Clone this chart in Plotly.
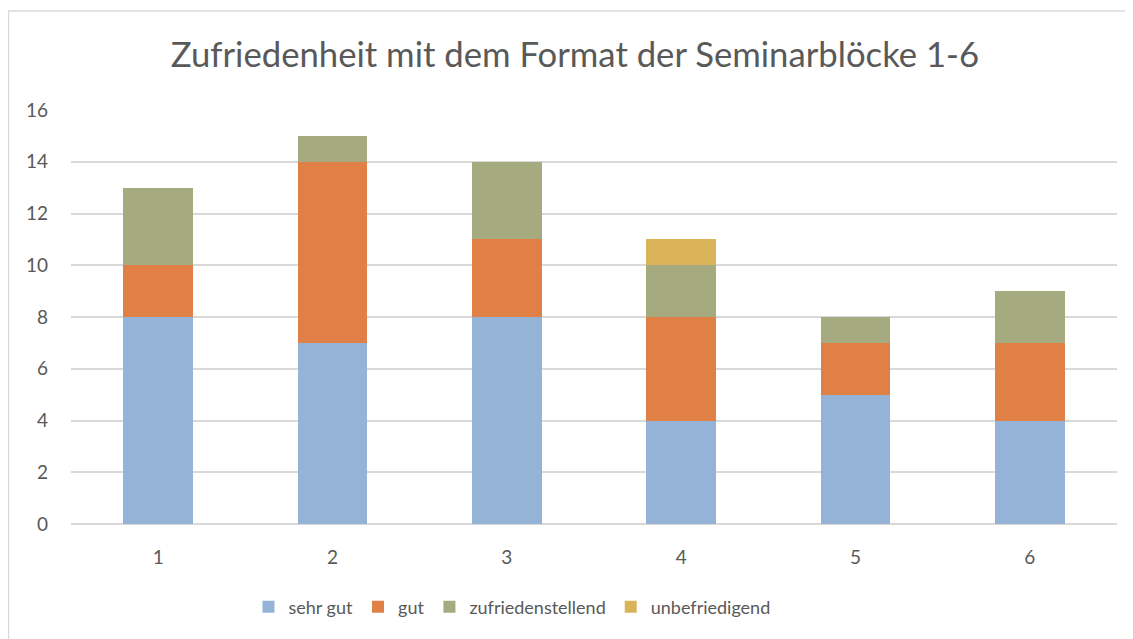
import plotly.graph_objects as go

categories = ["1", "2", "3", "4", "5", "6"]
sehr_gut = [8, 7, 8, 4, 5, 4]
gut = [2, 7, 3, 4, 2, 3]
zufriedenstellend = [3, 1, 3, 2, 1, 2]
unbefriedigend = [0, 0, 0, 1, 0, 0]

series = [
    ("sehr gut", sehr_gut, "#95B3D7"),
    ("gut", gut, "#E07F46"),
    ("zufriedenstellend", zufriedenstellend, "#A5AB7E"),
    ("unbefriedigend", unbefriedigend, "#DBB45A"),
]

fig = go.Figure()
for name, vals, color in series:
    fig.add_trace(go.Bar(
        x=categories, y=vals, name=name,
        marker=dict(color=color, line=dict(width=0)),
        width=0.4,
    ))

# page body has an 8px margin; figure pixels = screenshot pixels - 8
OFF = 8
W, H = 1133 - OFF, 639 - OFF
L, R, T, B = 71 - OFF, 16, 110 - OFF, 115
pw, ph = W - L - R, H - T - B

def px_x(p):
    return (p - OFF - L) / pw

def px_y(p):
    return (H - B - (p - OFF)) / ph

fig.update_layout(
    barmode="stack",
    width=W, height=H,
    margin=dict(l=L, r=R, t=T, b=B),
    paper_bgcolor="white",
    plot_bgcolor="white",
    font=dict(family="Lato, 'Open Sans', sans-serif", color="#595959", size=18),
    title=dict(
        text="Zufriedenheit mit dem Format der Seminarblöcke 1-6",
        x=(575 - OFF) / W, xanchor="center", xref="container",
        y=1 - (55 - OFF) / H, yanchor="middle",
        font=dict(size=34.7, color="#595959"),
    ),
    xaxis=dict(
        showgrid=False, showline=False, ticks="", zeroline=False,
        tickfont=dict(size=19, color="#595959"),
        ticklabelstandoff=20,
    ),
    yaxis=dict(
        range=[0, 16], dtick=2, showgrid=True, gridcolor="#D9D9D9", gridwidth=1.5,
        zeroline=True, zerolinecolor="#D9D9D9", zerolinewidth=1.5,
        showline=False, ticks="",
        tickfont=dict(size=19, color="#595959"),
        ticklabelstandoff=22,
    ),
    legend=dict(
        orientation="h", x=px_x(512), xanchor="center",
        y=px_y(607), yanchor="middle",
        font=dict(size=18, color="#595959"),
        traceorder="normal", itemwidth=30,
    ),
    bargap=0.6,
    shapes=[dict(
        type="rect", xref="paper", yref="paper",
        x0=px_x(OFF + 0.5), x1=px_x(1150), y0=px_y(700), y1=px_y(11),
        line=dict(color="#D9D9D9", width=1.5), fillcolor="rgba(0,0,0,0)",
        layer="below",
    )],
)

fig.write_html("out.html")
